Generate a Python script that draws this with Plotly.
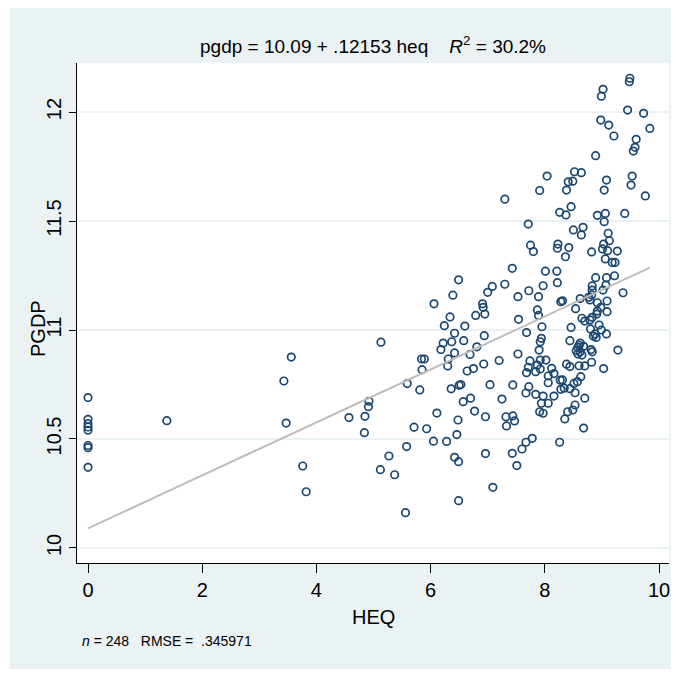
import plotly.graph_objects as go

# ---- data ----
heq = [
    0, 0, 0, 0, 0, 0, 0, 0,
    1.38, 3.56, 3.43, 3.47, 3.76, 3.82,
    6.06, 6.39, 6.49, 6.34, 6.24, 6.42, 6.37, 6.22, 6.18, 6.42,
    5.13, 5.84, 5.89, 6.31, 5.85, 6.30, 5.59, 5.81, 6.36, 6.50,
    4.92, 4.91, 4.57, 4.85, 4.84, 6.11, 5.71, 5.93, 6.05, 6.28,
    6.46, 6.48, 5.58, 6.42, 6.49, 5.27, 5.12, 5.37, 6.49, 5.56,
    8.04, 7.91, 7.30, 8.26, 7.71, 7.75, 7.80, 8.23, 8.22, 7.43,
    8.01, 8.21, 8.22, 7.30, 7.08, 7.00, 7.72, 7.97, 7.53, 7.89,
    8.28, 6.91, 6.92, 6.95, 6.79, 6.60, 6.94, 7.54, 7.87, 7.89,
    7.95, 7.68, 7.94, 7.92, 7.90, 6.58, 6.69, 6.81, 7.53, 7.20,
    6.93, 6.64, 6.75, 7.74, 7.92, 8.02, 7.87, 7.71, 7.92, 7.68,
    7.84, 8.12, 8.16, 8.06, 8.06, 8.27, 8.28, 8.16, 6.53, 7.04,
    7.44, 7.72, 7.67, 7.84, 7.97, 8.06, 7.94, 7.91, 7.97, 6.57,
    6.70, 7.25, 6.77, 6.96, 7.32, 7.44, 7.33, 7.47, 7.78, 7.67,
    7.60, 8.26, 7.43, 6.96, 7.51, 7.09,
    9.49, 9.48, 9.02, 8.99, 9.45, 9.73, 8.98, 9.12, 9.84, 9.21,
    9.60, 9.58, 9.55, 8.89, 8.52, 8.64, 8.41, 8.49, 8.38, 9.08,
    9.04, 9.53, 9.51, 9.76, 8.46, 8.37, 8.92, 9.06, 9.40,
    9.04, 8.50, 8.67, 8.64, 9.11, 9.13, 9.03, 9.01, 9.10, 9.27,
    8.42, 8.36, 8.82, 9.06, 9.18, 9.23, 8.89, 9.08, 9.22, 9.07,
    9.02, 8.83, 8.83, 8.82, 8.77, 8.79, 9.37, 8.31, 8.62, 8.54,
    8.92, 9.09, 8.98, 8.92, 8.91, 9.09, 8.65, 8.70, 8.79, 8.83,
    8.95, 8.99, 9.08, 8.46, 8.80, 8.85, 8.88,
    8.90, 8.44, 8.62, 8.68, 8.58, 8.55, 8.62, 8.65, 8.58, 8.81,
    8.83, 9.28, 8.38, 8.44, 8.60, 8.70, 8.82, 9.03, 8.63, 8.57,
    8.51, 8.31, 8.34, 8.44, 8.53, 8.70, 8.53, 8.49, 8.40, 8.35,
    8.68, 8.60,
]
pgdp = [
    10.69, 10.59, 10.57, 10.555, 10.54, 10.47, 10.46, 10.37,
    10.584, 10.876, 10.766, 10.573, 10.376, 10.258,
    11.12, 11.16, 11.23, 11.06, 11.02, 10.985, 10.946, 10.94, 10.91, 10.895,
    10.944, 10.867, 10.867, 10.867, 10.818, 10.835, 10.754, 10.725, 10.73, 10.746,
    10.673, 10.648, 10.598, 10.604, 10.529, 10.619, 10.554, 10.547, 10.49, 10.489,
    10.52, 10.587, 10.465, 10.416, 10.396, 10.422, 10.359, 10.336, 10.217, 10.162,
    11.706, 11.64, 11.60, 11.54, 11.486, 11.389, 11.36, 11.394, 11.375, 11.283,
    11.27, 11.27, 11.217, 11.21, 11.20, 11.173, 11.18, 11.203, 11.153, 11.153,
    11.13, 11.12, 11.104, 11.073, 11.067, 11.018, 10.974, 11.049, 11.092, 11.067,
    11.015, 10.988, 10.962, 10.946, 10.908, 10.951, 10.888, 10.923, 10.89, 10.86,
    10.844, 10.812, 10.823, 10.858, 10.862, 10.862, 10.839, 10.829, 10.821, 10.804,
    10.809, 10.824, 10.80, 10.789, 10.758, 10.77, 10.728, 10.697, 10.75, 10.749,
    10.748, 10.74, 10.711, 10.705, 10.697, 10.664, 10.664, 10.625, 10.618, 10.671,
    10.687, 10.683, 10.628, 10.602, 10.602, 10.606, 10.56, 10.583, 10.503, 10.485,
    10.454, 10.485, 10.434, 10.433, 10.378, 10.278,
    12.155, 12.139, 12.104, 12.073, 12.009, 11.994, 11.963, 11.94, 11.925, 11.89,
    11.875, 11.838, 11.821, 11.80, 11.726, 11.722, 11.68, 11.683, 11.642, 11.688,
    11.642, 11.706, 11.665, 11.615, 11.566, 11.528, 11.526, 11.535, 11.535,
    11.497, 11.459, 11.471, 11.436, 11.444, 11.41, 11.394, 11.372, 11.364, 11.362,
    11.378, 11.336, 11.358, 11.326, 11.31, 11.31, 11.24, 11.24, 11.249, 11.206,
    11.183, 11.202, 11.183, 11.161, 11.15, 11.138, 11.171, 11.134, 11.144, 11.098,
    11.125, 11.133, 11.104, 11.087, 11.073, 11.084, 11.054, 11.041, 11.046, 11.058,
    11.023, 11.0, 10.982, 11.012, 11.005, 10.972, 10.982,
    10.966, 10.951, 10.94, 10.925, 10.92, 10.905, 10.90, 10.885, 10.89, 10.91,
    10.90, 10.908, 10.843, 10.832, 10.836, 10.835, 10.852, 10.823, 10.786, 10.763,
    10.755, 10.771, 10.733, 10.731, 10.712, 10.687, 10.656, 10.633, 10.625, 10.592,
    10.55, 10.93,
]

intercept = 10.09
slope = 0.12153
r2_text = "30.2%"
n_obs = 248
rmse_text = ".345971"

x_ticks = [0, 2, 4, 6, 8, 10]
y_ticks = [10, 10.5, 11, 11.5, 12]

NAVY = "#1a476f"
BG = "#eaf2f3"
FONT = "Liberation Sans, Arial, sans-serif"

x_lo, x_hi = min(heq), max(heq)
fit_x = [x_lo, x_hi]
fit_y = [intercept + slope * v for v in fit_x]

fig = go.Figure()
fig.add_trace(go.Scatter(
    x=heq, y=pgdp, mode="markers",
    marker=dict(symbol="circle-open", size=7.5, color=NAVY, line=dict(width=1.7, color=NAVY)),
    showlegend=False, hoverinfo="skip",
))
fig.add_trace(go.Scatter(
    x=fit_x, y=fit_y, mode="lines",
    line=dict(color="#bdbdbd", width=2),
    showlegend=False, hoverinfo="skip",
))

S = "\u00a0"
title = f"pgdp = {intercept:.2f} + .{str(slope).split('.')[1]} heq{S*4}<i>R</i><sup>2</sup> = {r2_text}"
note = f"<i>n</i> = {n_obs}{S*3}RMSE = {S}{rmse_text}"

# page body has an 8px margin: figure starts at (8, 8) in the screenshot
OFF = 8
W, H = 679 - OFF, 677 - 2 * OFF
# plot area in screenshot pixels
PL, PR, PT, PB = 77, 669, 63, 563
L, R, T, B = PL - OFF, (W + OFF) - PR, PT - OFF, (H + OFF) - PB
pw, ph = W - L - R, H - T - B

def px(xs):  # screenshot x -> paper
    return (xs - PL) / pw

def py(ys):  # screenshot y -> paper
    return (PB - ys) / ph

fig.update_layout(
    width=W, height=H,
    margin=dict(l=L, r=R, t=T, b=B, autoexpand=False),
    paper_bgcolor=BG, plot_bgcolor="white",
    font=dict(family=FONT, size=20, color="black"),
    xaxis=dict(
        range=[-0.193, 10.175], tickvals=x_ticks, ticks="outside", ticklen=9,
        tickcolor="black", tickwidth=1, showline=True, linecolor="black", linewidth=1,
        showgrid=False, zeroline=False, tickfont=dict(size=20),
    ),
    yaxis=dict(
        range=[9.931, 12.225], tickvals=y_ticks, ticks="outside", ticklen=7,
        tickcolor="black", tickwidth=1, showline=True, linecolor="black", linewidth=1,
        showgrid=True, gridcolor=BG, gridwidth=1.5, zeroline=False,
        tickangle=-90, tickfont=dict(size=20),
    ),
    shapes=[
        dict(type="rect", xref="paper", yref="paper", x0=px(OFF), x1=px(10), y0=py(H + OFF), y1=py(OFF),
             fillcolor="white", line=dict(width=0), layer="below"),
    ],
    annotations=[
        dict(text=title, x=0.5, y=py(45), xref="paper", yref="paper", showarrow=False,
             xanchor="center", yanchor="middle", font=dict(size=19)),
        dict(text="PGDP", x=px(38), y=py(329), xref="paper", yref="paper", showarrow=False,
             xanchor="center", yanchor="middle", textangle=-90, font=dict(size=20)),
        dict(text="HEQ", x=0.5, y=py(617), xref="paper", yref="paper", showarrow=False,
             xanchor="center", yanchor="middle", font=dict(size=20)),
        dict(text=note, x=px(80), y=py(641), xref="paper", yref="paper", showarrow=False,
             xanchor="left", yanchor="middle", font=dict(size=14)),
    ],
)

fig.write_html("out.html")
